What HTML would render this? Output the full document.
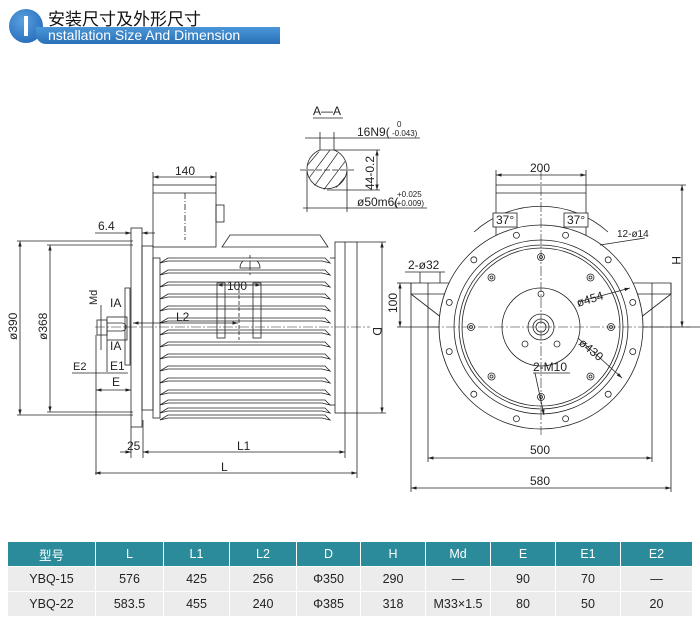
<!DOCTYPE html>
<html><head><meta charset="utf-8">
<style>
body{margin:0;background:#fff;width:700px;height:625px;overflow:hidden;position:relative;font-family:"Liberation Sans","Noto Sans CJK SC",sans-serif}
.hdrc{position:absolute;left:9px;top:9px;width:34px;height:34px;border-radius:50%;background:radial-gradient(circle at 40% 35%,#5aa0e0,#1a5fb0);}
.hdrc:after{content:"";position:absolute;left:15px;top:7px;width:4px;height:20px;background:#fff}
.cn{position:absolute;left:48px;top:5px;font-size:17px;color:#111;font-family:"Noto Sans CJK SC",sans-serif}
.bar{position:absolute;left:36px;top:27px;width:244px;height:17px;background:linear-gradient(#4a96d8,#2a70b8);border-radius:0 0 0 10px}
.bar span{position:absolute;left:12px;top:0px;color:#fff;font-size:14px;line-height:17px}
table{position:absolute;left:7px;top:541px;border-collapse:collapse;font-size:12.5px;color:#222}
td{height:24px;text-align:center;border:1px solid #fff;background:#ececec;padding:0}
tr.h td{background:#2b8b9b;color:#fff;height:24px}
svg{position:absolute;left:0;top:0}
</style></head><body>
<div class="hdrc"></div>
<div class="cn">安装尺寸及外形尺寸</div>
<div class="bar"><span>nstallation Size And Dimension</span></div>

<svg width="700" height="540" viewBox="0 0 700 540" font-family="Liberation Sans Narrow,Liberation Sans,sans-serif" font-size="12" fill="none" stroke="#222" stroke-width="0.8">
<defs>
<marker id="a" viewBox="0 0 10 10" refX="10" refY="5" markerWidth="7" markerHeight="7" orient="auto-start-reverse"><path d="M0,2 L10,5 L0,8 Z" fill="#222" stroke="none"/></marker>
</defs>
<g id="side">
<rect x="131" y="228" width="11" height="199"/>
<rect x="142" y="246" width="11" height="164"/>
<rect x="153" y="185" width="63" height="62"/>
<line x1="153" y1="193" x2="216" y2="193"/>
<rect x="216" y="205" width="8" height="17"/>
<line x1="185" y1="193" x2="185" y2="240" stroke-dasharray="6 2 1 2"/>
<polygon points="222,247 230,235 320,235 328,247"/>
<path d="M240,268 A10,10 0 0 1 260,268 Z"/>
<line x1="250" y1="255" x2="250" y2="275"/>
<g id="fins"></g>
<rect x="153" y="258" width="7" height="160"/>
<rect x="217" y="283" width="8" height="55"/>
<rect x="253" y="283" width="8" height="55"/>
<line x1="239" y1="283" x2="239" y2="340" stroke-dasharray="4 2"/>
<rect x="335" y="242" width="22" height="171"/>
<line x1="345" y1="242" x2="345" y2="413"/>
<line x1="330" y1="258" x2="335" y2="258"/><line x1="330" y1="405" x2="335" y2="405"/>
<line x1="95" y1="327" x2="370" y2="327" stroke-dasharray="10 2 2 2" stroke-width="0.6"/>
<rect x="125" y="288" width="5" height="77"/>
<rect x="107" y="317" width="20" height="23"/>
<rect x="97" y="320" width="10" height="15"/>
<path d="M107,323 H122 A4,4 0 0 1 122,331 H107"/>
<line x1="357" y1="242" x2="386" y2="242"/><line x1="357" y1="413" x2="386" y2="413"/>
<line x1="382" y1="242" x2="382" y2="413" marker-start="url(#a)" marker-end="url(#a)"/>
<line x1="133" y1="323" x2="238" y2="323" marker-start="url(#a)" marker-end="url(#a)"/>
<line x1="217" y1="285" x2="261" y2="285" marker-start="url(#a)" marker-end="url(#a)"/>
<line x1="17" y1="241" x2="133" y2="241"/><line x1="17" y1="415" x2="133" y2="415"/>
<line x1="47" y1="245" x2="133" y2="245"/><line x1="47" y1="412" x2="133" y2="412"/>
<line x1="20" y1="241" x2="20" y2="415" marker-start="url(#a)" marker-end="url(#a)"/>
<line x1="50" y1="245" x2="50" y2="412" marker-start="url(#a)" marker-end="url(#a)"/>
<line x1="95" y1="233" x2="131" y2="233" marker-end="url(#a)"/>
<line x1="155" y1="233" x2="142" y2="233" marker-end="url(#a)"/>
<line x1="96" y1="335" x2="96" y2="475"/>
<line x1="107" y1="340" x2="107" y2="372"/>
<line x1="72" y1="373" x2="128" y2="373"/>
<line x1="96" y1="390" x2="131" y2="390" marker-start="url(#a)" marker-end="url(#a)"/>
<line x1="101" y1="305" x2="101" y2="350"/>
<line x1="131" y1="427" x2="131" y2="458"/><line x1="143" y1="420" x2="143" y2="458"/>
<line x1="345" y1="413" x2="345" y2="458"/><line x1="357" y1="413" x2="357" y2="478"/>
<line x1="120" y1="452" x2="131" y2="452" marker-end="url(#a)"/>
<line x1="143" y1="452" x2="345" y2="452" marker-start="url(#a)" marker-end="url(#a)"/>
<line x1="95" y1="473" x2="357" y2="473" marker-start="url(#a)" marker-end="url(#a)"/>
<line x1="153" y1="177" x2="216" y2="177" marker-start="url(#a)" marker-end="url(#a)"/>
<line x1="153" y1="172" x2="153" y2="185"/><line x1="216" y1="172" x2="216" y2="185"/>
</g>
<g fill="#222" stroke="none">
<text x="175" y="175">140</text>
<text x="98" y="230">6.4</text>
<text x="227" y="290">100</text>
<text x="176" y="321">L2</text>
<text x="373" y="327" transform="rotate(90 373 327)">D</text>
<text x="127" y="450">25</text>
<text x="237" y="450">L1</text>
<text x="221" y="471">L</text>
<text x="17" y="340" transform="rotate(-90 17 340)">ø390</text>
<text x="47" y="340" transform="rotate(-90 47 340)">ø368</text>
<text x="97" y="305" transform="rotate(-90 97 305)" font-size="11">Md</text>
<text x="110" y="307">IA</text>
<text x="110" y="350">IA</text>
<text x="110" y="370">E1</text>
<text x="112" y="386">E</text>
<text x="73" y="370" font-size="11">E2</text>
</g>

<g>
<path d="M320,150 A20,20 0 1 0 334,150 Z" fill="#fff"/>
<clipPath id="cc"><circle cx="327" cy="170" r="20"/></clipPath>
<g clip-path="url(#cc)" stroke-width="0.7">
<line x1="300" y1="190" x2="330" y2="150"/><line x1="308" y1="195" x2="340" y2="150"/><line x1="316" y1="200" x2="350" y2="155"/><line x1="326" y1="200" x2="355" y2="165"/><line x1="295" y1="180" x2="322" y2="148"/>
</g>
<line x1="300" y1="170" x2="355" y2="170" stroke-dasharray="6 2"/>
<line x1="313" y1="118" x2="343" y2="118"/>
<line x1="305" y1="138" x2="420" y2="138"/>
<line x1="320" y1="132" x2="320" y2="150"/><line x1="334" y1="132" x2="334" y2="150"/>
<line x1="334" y1="150" x2="380" y2="150"/><line x1="327" y1="190" x2="380" y2="190"/>
<line x1="377" y1="150" x2="377" y2="190" marker-start="url(#a)" marker-end="url(#a)"/>
<line x1="303" y1="208" x2="427" y2="208"/>
<line x1="307" y1="170" x2="307" y2="212"/><line x1="347" y1="170" x2="347" y2="212"/>
</g>
<g fill="#222" stroke="none">
<text x="313" y="115">A—A</text>
<text x="357" y="136">16N9(</text><text x="392" y="136" font-size="8">-0.043)</text><text x="397" y="127" font-size="8">0</text>
<text x="374" y="190" transform="rotate(-90 374 190)">44-0.2</text>
<text x="357" y="206">ø50m6(</text><text x="397" y="197" font-size="8">+0.025</text><text x="394" y="206" font-size="8">(+0.009)</text>
</g>

<g>
<line x1="496" y1="185" x2="686" y2="185"/>
<line x1="496" y1="193" x2="586" y2="193"/>
<line x1="496" y1="170" x2="496" y2="237"/><line x1="586" y1="170" x2="586" y2="237"/>
<line x1="496" y1="175" x2="586" y2="175" marker-start="url(#a)" marker-end="url(#a)"/>
<polygon points="411,283 451,283 451,294 411,294"/>
<polygon points="631,283 671,283 671,294 631,294"/>
<line x1="411" y1="294" x2="442" y2="318"/><line x1="671" y1="294" x2="640" y2="318"/>
<line x1="428" y1="283" x2="428" y2="462"/><line x1="652" y1="283" x2="652" y2="462"/>
<line x1="411" y1="283" x2="411" y2="492"/><line x1="671" y1="283" x2="671" y2="492"/>
<line x1="397" y1="283" x2="411" y2="283"/><line x1="397" y1="327" x2="700" y2="327"/>
<line x1="400" y1="283" x2="400" y2="327" marker-start="url(#a)" marker-end="url(#a)"/>
<line x1="682" y1="185" x2="682" y2="327" marker-start="url(#a)" marker-end="url(#a)"/>
<line x1="428" y1="458" x2="652" y2="458" marker-start="url(#a)" marker-end="url(#a)"/>
<line x1="411" y1="488" x2="671" y2="488" marker-start="url(#a)" marker-end="url(#a)"/>
<circle cx="541" cy="327" r="102" fill="#fff"/>
<circle cx="541" cy="327" r="87"/><circle cx="541" cy="327" r="82"/><circle cx="541" cy="327" r="79"/>
<circle cx="541" cy="327" r="39"/><circle cx="541" cy="327" r="13"/><circle cx="541" cy="327" r="8"/><circle cx="541" cy="327" r="5"/>
<line x1="541" y1="170" x2="541" y2="435" stroke-dasharray="10 2 2 2" stroke-width="0.6"/>
<line x1="430" y1="327" x2="690" y2="327" stroke-dasharray="10 2 2 2" stroke-width="0.6"/>
<path d="M474,232 A100,100 0 0 1 608,232"/>
<line x1="578" y1="302" x2="630" y2="288" marker-end="url(#a)"/>
<line x1="578" y1="338" x2="622" y2="378" marker-end="url(#a)"/>
<line x1="405" y1="272" x2="445" y2="272"/>
<line x1="420" y1="283" x2="420" y2="272"/><line x1="440" y1="283" x2="440" y2="272"/>
<line x1="600" y1="245" x2="645" y2="238"/>
<line x1="533" y1="373" x2="570" y2="373"/>
<line x1="535" y1="373" x2="544" y2="415" marker-end="url(#a)"/>
<g id="holes"></g>
</g>
<g fill="#222" stroke="none">
<text x="530" y="172">200</text>
<rect x="493" y="213" width="24" height="14" fill="#fff" stroke="#222" stroke-width="0.8"/>
<rect x="564" y="213" width="24" height="14" fill="#fff" stroke="#222" stroke-width="0.8"/>
<text x="496" y="224">37°</text><text x="567" y="224">37°</text>
<text x="617" y="237" font-size="10">12-ø14</text>
<text x="408" y="269">2-ø32</text>
<text x="397" y="313" transform="rotate(-90 397 313)">100</text>
<text x="672" y="256" transform="rotate(90 672 256)">H</text>
<text x="578" y="307" transform="rotate(-17 578 307)">ø454</text>
<text x="578" y="344" transform="rotate(40 578 344)">ø430</text>
<text x="533" y="371">2-M10</text>
<text x="530" y="454">500</text>
<text x="530" y="485">580</text>
</g>
</svg>

<table>
<tr class="h"><td style="width:87px">型号</td><td style="width:67px">L</td><td style="width:65px">L1</td><td style="width:66px">L2</td><td style="width:63px">D</td><td style="width:64px">H</td><td style="width:64px">Md</td><td style="width:64px">E</td><td style="width:64px">E1</td><td style="width:71px">E2</td></tr>
<tr><td>YBQ-15</td><td>576</td><td>425</td><td>256</td><td>Φ350</td><td>290</td><td>—</td><td>90</td><td>70</td><td>—</td></tr>
<tr><td>YBQ-22</td><td>583.5</td><td>455</td><td>240</td><td>Φ385</td><td>318</td><td>M33×1.5</td><td>80</td><td>50</td><td>20</td></tr>
</table>

<script>
var ns="http://www.w3.org/2000/svg";
var f=document.getElementById("fins");
var ys=[258,270,282,294,306,318,330,342,354,366,378,390,400,408,415];
ys.forEach(function(y){
 var p=document.createElementNS(ns,"polygon");
 p.setAttribute("points",[160,y+5,168,y,325,y,330,y+5,322,y+3,168,y+3].join(","));
 p.setAttribute("fill","#fff");f.appendChild(p);
});
var h=document.getElementById("holes");
function c(x,y,r){var e=document.createElementNS(ns,"circle");e.setAttribute("cx",x);e.setAttribute("cy",y);e.setAttribute("r",r);h.appendChild(e);}
for(var i=0;i<12;i++){var a=(i*30+15)*Math.PI/180;var x=541+95*Math.sin(a),y=327-95*Math.cos(a);c(x,y,3);}
for(i=0;i<8;i++){a=i*45*Math.PI/180;x=541+70*Math.sin(a);y=327-70*Math.cos(a);c(x,y,3.5);c(x,y,1.5);}
c(541,294,3);c(525,344,3);c(557,344,3);
</script>
</body></html>
